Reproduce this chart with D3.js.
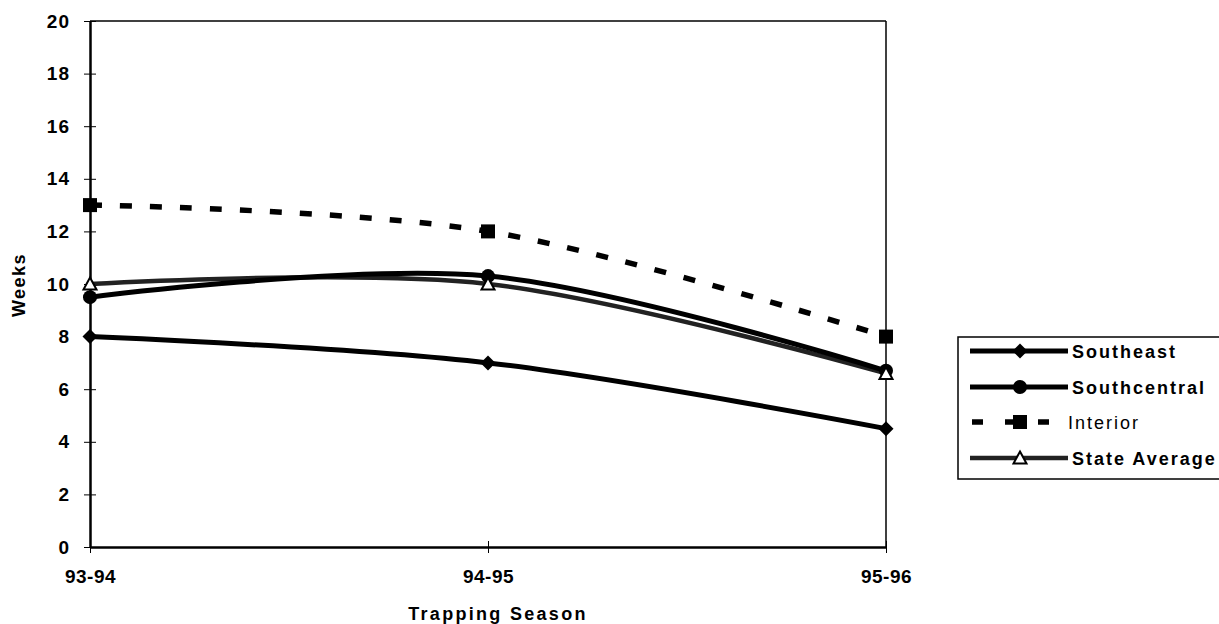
<!DOCTYPE html>
<html>
<head>
<meta charset="utf-8">
<script src="https://cdn.jsdelivr.net/npm/d3@7"></script>
<style>
  html, body { margin: 0; padding: 0; background: #fff; }
  svg { display: block; }
  text { font-family: "Liberation Sans", Arial, sans-serif; font-weight: bold; fill: #000; }
</style>
</head>
<body>
<svg id="chart" width="1219" height="624"></svg>
<script>
const categories = ["93-94", "94-95", "95-96"];
const southeast = [8.0, 7.0, 4.5];
const southcentral = [9.5, 10.3, 6.7];
const interior = [13.0, 12.0, 8.0];
const stateAverage = [10.0, 10.0, 6.6];
const yTicks = [0, 2, 4, 6, 8, 10, 12, 14, 16, 18, 20];
const seriesNames = ["Southeast", "Southcentral", "Interior", "State Average"];

(function () {
const svg = d3.select("#chart");
const pLeft = 90, pRight = 886, pTop = 21, pBottom = 547;
const FONT = "'Liberation Sans', Arial, sans-serif";

const x = d3.scalePoint().domain(categories).range([pLeft, pRight]);
const y = d3.scaleLinear().domain([0, 20]).range([pBottom, pTop]);

// frame (top and right)
svg.append("line").attr("x1", pLeft).attr("x2", pRight).attr("y1", pTop).attr("y2", pTop)
  .attr("stroke", "#000").attr("stroke-width", 1.5);
svg.append("line").attr("x1", pRight).attr("x2", pRight).attr("y1", pTop).attr("y2", pBottom)
  .attr("stroke", "#000").attr("stroke-width", 1.5);

// y axis
const yAxis = d3.axisLeft(y).tickValues(yTicks).tickSizeInner(6).tickSizeOuter(0).tickPadding(14);
const gy = svg.append("g").attr("transform", `translate(${pLeft},0)`).call(yAxis);
gy.attr("font-size", 19).attr("font-family", FONT).attr("font-weight", "bold");
gy.select(".domain").attr("stroke", "#000").attr("stroke-width", 2.5);
gy.selectAll(".tick line").attr("x2", 6).attr("x1", -6).attr("stroke", "#000").attr("stroke-width", 1);
gy.selectAll(".tick text").style("font-size", "19px").style("letter-spacing", "1px");

// x axis
const xAxis = d3.axisBottom(x).tickSizeInner(6).tickSizeOuter(0).tickPadding(17);
const gx = svg.append("g").attr("transform", `translate(0,${pBottom})`).call(xAxis);
gx.attr("font-size", 19).attr("font-family", FONT).attr("font-weight", "bold");
gx.select(".domain").attr("stroke", "#000").attr("stroke-width", 2.5);
gx.selectAll(".tick line").attr("y1", -6).attr("y2", 6).attr("stroke", "#000").attr("stroke-width", 1);
gx.selectAll(".tick text").style("font-size", "19px").style("letter-spacing", "0.5px");

// axis titles
svg.append("text").attr("x", 498).attr("y", 620).attr("text-anchor", "middle")
  .style("font-size", "18px").style("letter-spacing", "2.3px").text("Trapping Season");
svg.append("text").attr("transform", `translate(25,285) rotate(-90)`)
  .attr("text-anchor", "middle").style("font-size", "18px").style("letter-spacing", "1.5px").text("Weeks");

const line = d3.line().x((d, i) => x(categories[i])).y(d => y(d)).curve(d3.curveCatmullRom.alpha(0));

const series = [
  { name: seriesNames[0], values: southeast, color: "#000", width: 5, dash: null, marker: "diamond" },
  { name: seriesNames[1], values: southcentral, color: "#000", width: 5, dash: null, marker: "circle" },
  { name: seriesNames[2], values: interior, color: "#000", width: 5.5, dash: "12,18", marker: "square" },
  { name: seriesNames[3], values: stateAverage, color: "#222", width: 4.5, dash: null, marker: "triangle" }
];

const drawOrder = [3, 0, 1, 2];
drawOrder.forEach(k => {
  const s = series[k];
  svg.append("path").datum(s.values).attr("d", line).attr("fill", "none")
    .attr("stroke", s.color).attr("stroke-width", s.width)
    .attr("stroke-dasharray", s.dash).attr("stroke-linejoin", "round");
});

function drawMarker(g, type, cx, cy) {
  if (type === "diamond") {
    g.append("path").attr("d", `M${cx},${cy - 7.5}L${cx + 7.5},${cy}L${cx},${cy + 7.5}L${cx - 7.5},${cy}Z`).attr("fill", "#000");
  } else if (type === "circle") {
    g.append("circle").attr("cx", cx).attr("cy", cy).attr("r", 7).attr("fill", "#000");
  } else if (type === "square") {
    g.append("rect").attr("x", cx - 7).attr("y", cy - 7).attr("width", 14).attr("height", 14).attr("fill", "#000");
  } else if (type === "triangle") {
    g.append("path").attr("d", `M${cx},${cy - 6.5}L${cx + 6.5},${cy + 5.5}L${cx - 6.5},${cy + 5.5}Z`)
      .attr("fill", "#fff").attr("stroke", "#000").attr("stroke-width", 2);
  }
}

[0, 1, 2, 3].forEach(k => {
  const s = series[k];
  const g = svg.append("g");
  s.values.forEach((v, i) => drawMarker(g, s.marker, x(categories[i]), y(v)));
});

// legend
const lg = svg.append("g");
lg.append("rect").attr("x", 958).attr("y", 337).attr("width", 275).attr("height", 142)
  .attr("fill", "#fff").attr("stroke", "#000").attr("stroke-width", 1.5);
const rowY = [351, 387, 422, 458];
series.forEach((s, i) => {
  const cy = rowY[i];
  if (s.dash) {
    lg.append("line").attr("x1", 972).attr("x2", 1051).attr("y1", cy).attr("y2", cy)
      .attr("stroke", s.color).attr("stroke-width", s.width).attr("stroke-dasharray", "11,22");
  } else {
    lg.append("line").attr("x1", 970).attr("x2", 1068).attr("y1", cy).attr("y2", cy)
      .attr("stroke", s.color).attr("stroke-width", s.width);
  }
  drawMarker(lg, s.marker, 1020, cy);
  lg.append("text").attr("x", s.dash ? 1068 : 1072).attr("y", cy + 7)
    .style("font-size", "18px").style("letter-spacing", "2px")
    .style("font-weight", s.dash ? "normal" : "bold").text(s.name);
});
})();
</script>
</body>
</html>
